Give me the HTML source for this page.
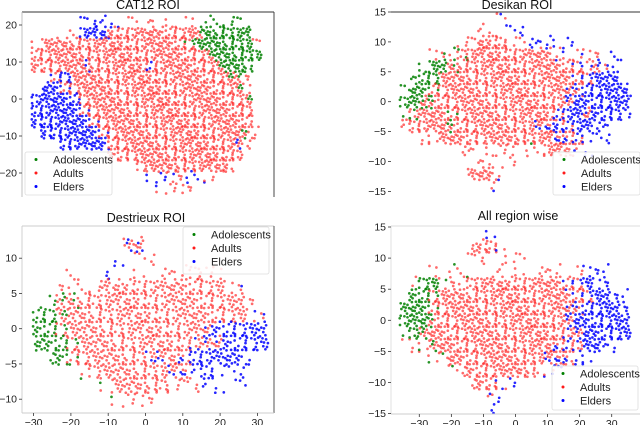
<!DOCTYPE html>
<html><head><meta charset="utf-8"><style>
html,body{margin:0;padding:0;background:#fff}
svg{display:block;font-family:"Liberation Sans",sans-serif}
</style></head><body>
<svg id="c" width="640" height="425" viewBox="0 0 640 425"></svg>
<script>
// ---- data: density grids (R/G/B dense, r/g/b sparse, M/m red+green, N/n red+blue) ----
const colsX = [-34.5,-31.5,-28.5,-25.5,-22.5,-19.5,-16.5,-13.5,-10.5,-7.5,-4.5,-1.5,1.5,4.5,7.5,10.5,13.5,16.5,19.5,22.5,25.5,28.5,31.5,34.5];
const catRowsY = [21,18,15,12,9,6,3,0,-3,-6,-9,-12,-15,-18,-21,-24];
const catGrid = [
".....bbbb.r.r.r.r.gggg..",
"....rBBBRRRRRRRRRMGGGGG.",
"rRRRRRRRRRRRRRRRMGGGGGGr",
"RRRRRRRRRRRRRRRRRRMGGGGG",
"RRRRRNRRRRRRNRRRRRRMGGG.",
"..NBRRRRRRRRRRRRRRRRMMr.",
".BBNRRRRRRRRRRRRRRRRRMr.",
"BBBBBRRRRRRRRRRRRRRRRRM.",
"BBBBBNRRRRRRRRRRRRRRRRR.",
"BBBBBBNRRRRRRRRRRRRRRRR.",
".BBBBBBNRRRRRRRRRRRRRRMr",
"...BBBBBRRRRRRRRRRRRRNr.",
"........RRRRRRRRRRRRRR..",
"...........RRRRRRRRRR...",
"............bbnrbbr.....",
".............nrrr......."
];
const rowsY15 = [14,12,10,8,6,4,2,0,-2,-4,-6,-8,-10,-12,-14];
const desGrid = [
"..........n.............",
"........rr.bb...........",
"......rrRRRrrbbbbb......",
"...rmmMRRRRRRRRRnnnrr.b.",
"..gGGMRRRRRRRRRRRRNnNnb.",
".gGGRRRRRRRRRRRRRRNNBBB.",
"gGGMRRRRRRRRRRRRRNNBBBBB",
"GGMMRRRRRRRRRRRRRNBBBBBB",
"mMRRRMRRRRRRRRRRNBBNBBBb",
"rRRRRMRRRRRRRRNNBNBBbb..",
"..rrRRRRRRRRRRRRNNNbbb..",
"......rr.rrr.mrRRRnb....",
"........rr.r............",
".......RRRn.............",
".........n.............."
];
const rowsYDst = [12,10,8,6,4,2,0,-2,-4,-6,-8,-10];
const dstGrid = [
"..........NN............",
".........b.rr...........",
".....r..b..r.rrrRrr.....",
"....rrrrRRRRRRRRRRRrn...",
"...gMMRRRRRRRRRRRRRRRr..",
"..GGMRRRRRRRRRRRRRRRRnn.",
"..GGMRRRRRRRRRRRRNBBBBB.",
"..GGGMRRRRRRRRRRNNNBBBB.",
"...gGMRRRRRRNNRNBBBBBb..",
"......mRRRRRRRNNbBbbb...",
"........mRRRRRrrrbb.b...",
".........mrrr..........."
];
const allGrid = [
".........b..............",
".......rRRn.............",
".......rr..rr...........",
"...r.mm...r.r.rrr.rbbb..",
".mGGmrrRRRRRRRRRRNNBbb..",
".GGMRRRRRRRRRRRRRRNNBBbb",
"GGGMRRRRRRRRRRRRRNNBBBBb",
"GGGMRRRRRRRRRRRRRNBBBBBB",
"mGMRRRRRRRRRRRRRRNNBBBBB",
".rmMRRRRRRRRRRRRNNNBBbb.",
"...mmRRRRRRRRRRNNNbb....",
".....mrRRRRRRRnnb.......",
".......rRRnb............",
".........nb.............",
".........b.............."
];
const legendLabels = ["Adolescents","Adults","Elders"];
const yTicksCat = [20,10,0,-10,-20];
const yTicks15 = [15,10,5,0,-5,-10,-15];
const yTicksDst = [10,5,0,-5,-10];
const xTicks = [-30,-20,-10,0,10,20,30];

const NS="http://www.w3.org/2000/svg";
const svg=document.getElementById('c');
function mk(tag,attrs,parent){const e=document.createElementNS(NS,tag);for(const k in attrs)e.setAttribute(k,attrs[k]);(parent||svg).appendChild(e);return e;}
const COL={r:'#ff1a1a',g:'#008000',b:'#0000ff'};
// fixed in-cell placement pattern (layout only)
const OFF=[[.12,.18],[.63,.07],[.88,.52],[.37,.43],[.06,.83],[.52,.71],[.93,.95],[.74,.29],[.27,.97],[.46,.22],[.19,.58],[.81,.76],[.58,.48],[.03,.36],[.69,.9],[.33,.7]];

function panel(p){
  const g=mk('g',{});
  
  
  const sx=v=>p.x0+p.kx*v, sy=v=>p.y0-p.ky*v;
  const hw=p.kx*p.dx/2*1.15, hh=p.ky*p.dy/2*1.15;
  const pts=mk('g',{},g);
  
  
  p.grid.forEach((row,j)=>{
    for(let i=0;i<row.length;i++){
      const ch=row[i]; if(ch==='.')continue;
      const dense=ch===ch.toUpperCase();
      const n=dense?9:3; const t=ch.toLowerCase();
      const cx=sx(colsX[i]), cy=sy(p.rows[j]);
      for(let k=0;k<n;k++){
        let c=t;
        if(t==='m')c=(k%3===1)?'g':'r';
        if(t==='n')c=(k%3===1)?'b':'r';
        const o=OFF[(k*7+i*5+j*11)%OFF.length];
        const dot=mk('circle',{cx:(cx-hw+o[0]*2*hw).toFixed(1),cy:(cy-hh+o[1]*2*hh).toFixed(1),r:1.35,fill:COL[c],'fill-opacity':c==='r'?0.65:0.85},pts);
        
        
      }
    }
  });
  p.spines.forEach(s=>{const l=mk('line',{x1:s[0],y1:s[1],x2:s[2],y2:s[3],stroke:s[4],'stroke-width':0.9},g);
    });
  p.yt.forEach(v=>{const y=sy(v);
    mk('line',{x1:p.ax-3,y1:y,x2:p.ax,y2:y,stroke:'#333','stroke-width':0.8},g);
    const t=mk('text',{x:p.ax-5,y:y+3.5,'font-size':10.5,'text-anchor':'end',fill:'#222'},g);
    t.textContent=v<0?'\u2212'+(-v):String(v);
    });
  if(p.xt){p.xt.forEach(v=>{const x=sx(v);
    mk('line',{x1:x,y1:p.ay,x2:x,y2:p.ay+3,stroke:'#333','stroke-width':0.8},g);
    const t=mk('text',{x:x,y:p.ay+13,'font-size':10.5,'text-anchor':'middle',fill:'#222'},g);
    t.textContent=v<0?'\u2212'+(-v):String(v);
    });}
  const ti=mk('text',{x:p.tx,y:p.ty,'font-size':12.5,'text-anchor':'middle',fill:'#111'},g);
  ti.textContent=p.title;
  
  const L=p.leg;
  const lg=mk('g',{},g);
  
  mk('rect',{x:L[0],y:L[1],width:L[2],height:L[3],rx:2,fill:'#fff','fill-opacity':0.85,stroke:'#ddd','stroke-width':0.8},lg);
  ['g','r','b'].forEach((c,k)=>{const y=L[1]+7.5+k*13.5;
    mk('circle',{cx:L[0]+11,cy:y,r:1.5,fill:COL[c]},lg);
    const t=mk('text',{x:L[0]+28,y:y+4,'font-size':11,fill:'#222'},lg);
    t.textContent=legendLabels[k];
    });
}

panel({name:'cat12-panel',title:'CAT12 ROI',tx:148,ty:9,grid:catGrid,rows:catRowsY,dx:3,dy:3,
  x0:147,kx:3.19,y0:99,ky:3.7,ax:22,yt:yTicksCat,
  spines:[[22,12,274,12,'#333'],[274,12,274,197,'#333'],[22,12,22,197,'#bbb']],leg:[25,152,87,43]});
panel({name:'desikan-panel',title:'Desikan ROI',tx:517,ty:9,grid:desGrid,rows:rowsY15,dx:3,dy:2,
  x0:515.5,kx:3.2,y0:101.7,ky:5.98,ax:391,yt:yTicks15,
  spines:[[391,12,640,12,'#333']],leg:[553,152,87,43]});
panel({name:'destrieux-panel',title:'Destrieux ROI',tx:146,ty:222,grid:dstGrid,rows:rowsYDst,dx:3,dy:2,
  x0:145.5,kx:3.73,y0:328.7,ky:7.05,ax:22,ay:413,yt:yTicksDst,xt:xTicks,
  spines:[[22,226,274,226,'#ccc'],[22,226,22,413,'#ccc'],[274,226,274,413,'#444'],[22,413,274,413,'#ccc']],leg:[183,227,86,47]});
panel({name:'all-region-panel',title:'All region wise',tx:518,ty:220,grid:allGrid,rows:rowsY15,dx:3,dy:2,
  x0:515.5,kx:3.207,y0:320.3,ky:6.22,ax:391,ay:414,yt:yTicks15,xt:xTicks,
  spines:[[391,226,640,226,'#ddd'],[391,226,391,414,'#ddd'],[391,414,640,414,'#ccc']],leg:[552,366,86,44]});
</script>
</body></html>
